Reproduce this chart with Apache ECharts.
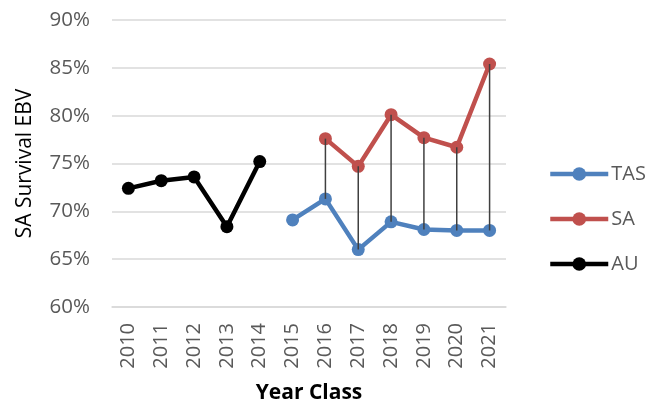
<!DOCTYPE html>
<html>
<head>
<meta charset="utf-8">
<script src="https://cdn.jsdelivr.net/npm/echarts@6/dist/echarts.min.js"></script>
<style>
  html, body { margin: 0; padding: 0; background: #fff; }
  #chart { width: 654px; height: 409px; }
</style>
</head>
<body>
<div id="chart"></div>
<script>
// Year classes on the category axis
const years = ['2010', '2011', '2012', '2013', '2014', '2015', '2016', '2017', '2018', '2019', '2020', '2021'];

// SA survival EBV (%) by year class for each source
const tasValues = [null, null, null, null, null, 69.1, 71.3, 66.0, 68.9, 68.1, 68.0, 68.0];
const saValues  = [null, null, null, null, null, null, 77.6, 74.7, 80.1, 77.7, 76.7, 85.4];
const auValues  = [72.4, 73.2, 73.6, 68.4, 75.2, null, null, null, null, null, null, null];

const FONT = 'Open Sans';
const GREY = '#595959';

// Pairs of TAS and SA values per year, used for the connecting drop lines
const dropPairs = years
  .map((y, i) => [i, tasValues[i], saValues[i]])
  .filter(p => p[1] != null && p[2] != null);

const chart = echarts.init(document.getElementById('chart'), null, { renderer: 'canvas' });

function lineSeries(name, data, color) {
  return {
    name: name,
    type: 'line',
    data: data,
    connectNulls: false,
    symbol: 'circle',
    symbolSize: 13,
    lineStyle: { color: color, width: 4.5 },
    itemStyle: { color: color },
    z: 2
  };
}

chart.setOption({
  animation: false,
  backgroundColor: '#fff',
  textStyle: { fontFamily: FONT },
  grid: { left: 112, right: 148, top: 20, bottom: 102 },
  legend: {
    orient: 'vertical',
    left: 543,
    top: 159,
    itemWidth: 58,
    itemHeight: 17,
    itemGap: 25,
    lineStyle: { width: 4.5 },
    data: ['TAS', 'SA', 'AU'],
    textStyle: { fontFamily: FONT, fontSize: 20, color: GREY, padding: [0, 0, 0, -2] }
  },
  xAxis: {
    type: 'category',
    data: years,
    boundaryGap: true,
    axisLine: { show: true, lineStyle: { color: '#d9d9d9', width: 1.5 } },
    axisTick: { show: false },
    axisLabel: { rotate: 90, margin: 16, fontSize: 20, color: GREY, fontFamily: FONT },
    name: 'Year Class',
    nameLocation: 'middle',
    nameGap: 76,
    nameTextStyle: { fontSize: 21, fontWeight: 'bold', color: '#000', fontFamily: FONT }
  },
  yAxis: {
    type: 'value',
    min: 60,
    max: 90,
    interval: 5,
    axisLine: { show: false },
    axisTick: { show: false },
    splitLine: { lineStyle: { color: '#d9d9d9', width: 1.5 } },
    axisLabel: { formatter: '{value}%', fontSize: 20.5, color: GREY, margin: 22, fontFamily: FONT },
    name: 'SA Survival EBV',
    nameLocation: 'middle',
    nameGap: 76,
    nameTextStyle: { fontSize: 21, color: '#000', fontFamily: FONT }
  },
  series: [
    lineSeries('TAS', tasValues, '#4F81BD'),
    lineSeries('SA', saValues, '#C0504D'),
    lineSeries('AU', auValues, '#000000'),
    {
      name: 'drop',
      type: 'custom',
      data: dropPairs,
      z: 5,
      silent: true,
      renderItem: function (params, api) {
        const a = api.coord([api.value(0), api.value(1)]);
        const b = api.coord([api.value(0), api.value(2)]);
        return {
          type: 'line',
          shape: { x1: a[0], y1: a[1], x2: b[0], y2: b[1] },
          style: { stroke: '#404040', lineWidth: 1.5 }
        };
      }
    }
  ]
});
</script>
</body>
</html>
